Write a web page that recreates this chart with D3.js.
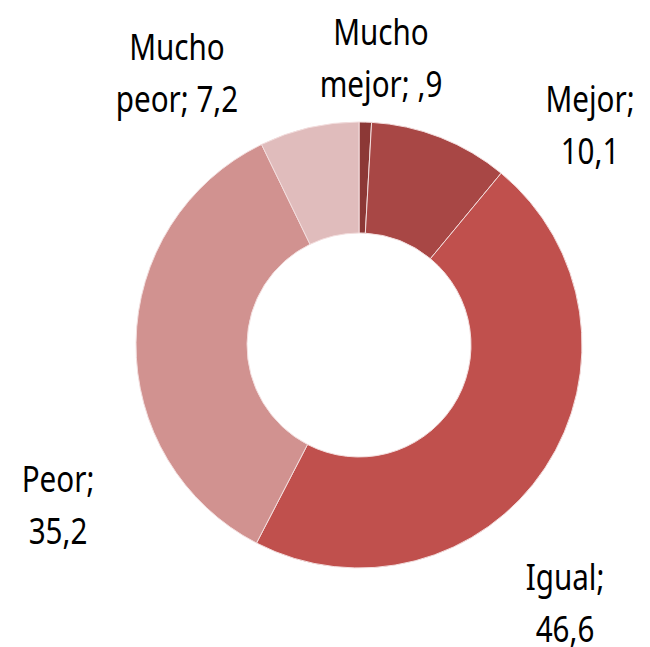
<!DOCTYPE html>
<html>
<head>
<meta charset="utf-8">
<script src="https://cdn.jsdelivr.net/npm/d3@7"></script>
<style>
  body { margin: 0; background: #fff; }
  text { font-family: "Liberation Sans Narrow", "Noto Sans", sans-serif; fill: #000; }
</style>
</head>
<body>
<div id="content"></div>
<script>
// categories clockwise from 12 o'clock
var categories = ['Mucho mejor', 'Mejor', 'Igual', 'Peor', 'Mucho peor'];
var values = [0.9, 10.1, 46.6, 35.2, 7.2];
var valueLabels = [',9', '10,1', '46,6', '35,2', '7,2'];
var colors = ['#8c3836', '#a84745', '#c0504d', '#d19290', '#e0bcbc'];

var width = 650, height = 647;
var cx = 359, cy = 345;
var outerR = 223, innerR = 112;

// label block centres (Excel "best fit" spots), relative to chart centre
var labelSpots = [[22, -287], [231, -220], [206, 258], [-301, 160], [-182, -272]];
var labelLines = [
  ['Mucho', 'mejor; ' + valueLabels[0]],
  ['Mejor;', valueLabels[1]],
  ['Igual;', valueLabels[2]],
  ['Peor;', valueLabels[3]],
  ['Mucho', 'peor; ' + valueLabels[4]]
];

var svg = d3.select('#content').append('svg')
  .attr('width', width)
  .attr('height', height);

var g = svg.append('g').attr('transform', `translate(${cx}, ${cy})`);

var pie = d3.pie().sort(null).value(d => d);
var arc = d3.arc().innerRadius(innerR).outerRadius(outerR);

g.selectAll('path')
  .data(pie(values))
  .enter().append('path')
  .attr('d', arc)
  .attr('fill', (d, i) => colors[i])
  .attr('stroke', '#f3dede')
  .attr('stroke-width', 1);

// Calibri is narrow; squeeze the fallback font horizontally
var lineH = 52;
var labels = g.selectAll('text.lbl')
  .data(categories)
  .enter().append('text')
  .attr('class', 'lbl')
  .attr('text-anchor', 'middle')
  .attr('font-size', 37)
  .attr('transform', (d, i) => `translate(${labelSpots[i][0]}, ${labelSpots[i][1]}) scale(0.8, 1)`);

labels.each(function(d, i) {
  var t = d3.select(this);
  labelLines[i].forEach((ln, k) => {
    t.append('tspan')
      .attr('x', 0)
      .attr('y', (k - 0.5) * lineH + 13)
      .text(ln);
  });
});
</script>
</body>
</html>
